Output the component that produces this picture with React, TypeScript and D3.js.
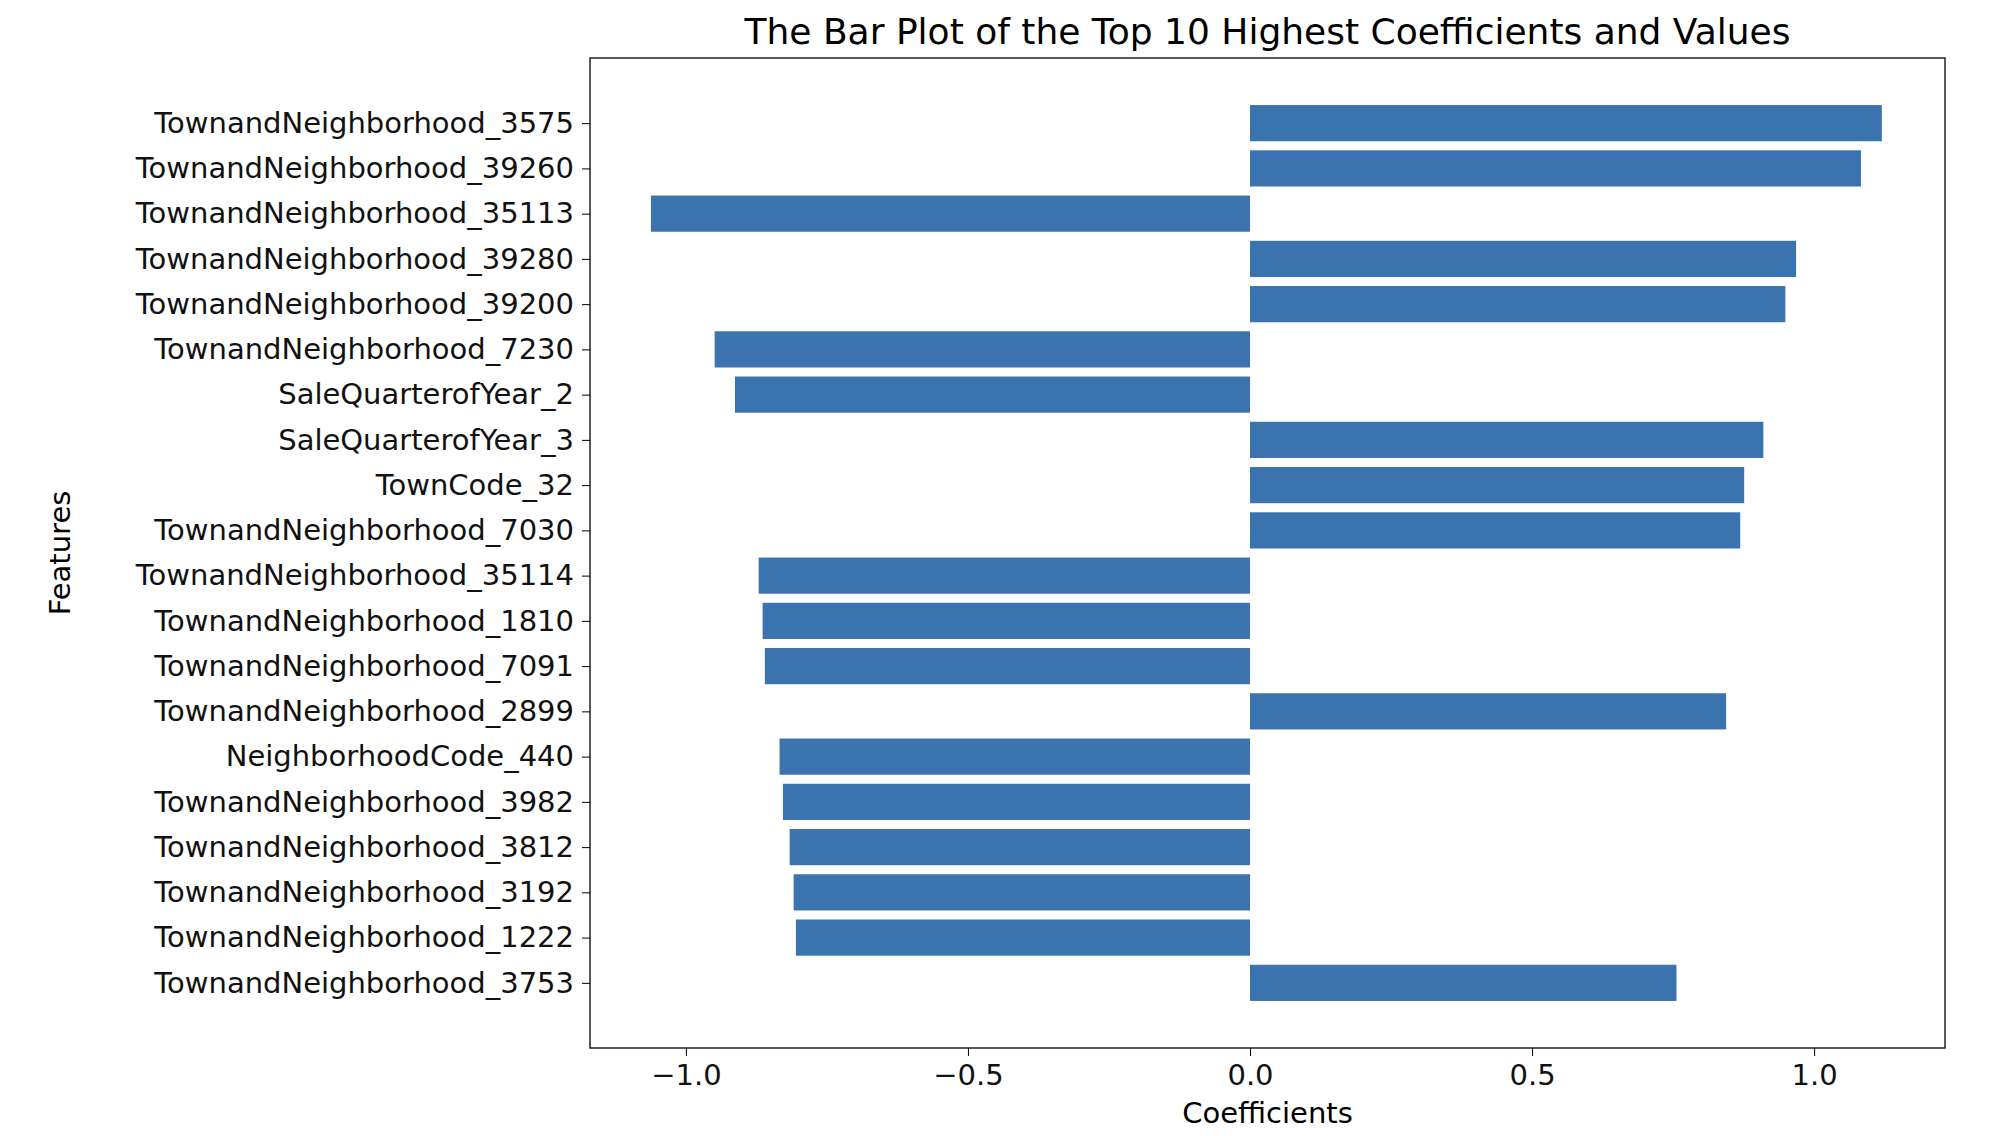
import * as React from "react";
import * as d3 from "d3";

const features = [
  "TownandNeighborhood_3575",
  "TownandNeighborhood_39260",
  "TownandNeighborhood_35113",
  "TownandNeighborhood_39280",
  "TownandNeighborhood_39200",
  "TownandNeighborhood_7230",
  "SaleQuarterofYear_2",
  "SaleQuarterofYear_3",
  "TownCode_32",
  "TownandNeighborhood_7030",
  "TownandNeighborhood_35114",
  "TownandNeighborhood_1810",
  "TownandNeighborhood_7091",
  "TownandNeighborhood_2899",
  "NeighborhoodCode_440",
  "TownandNeighborhood_3982",
  "TownandNeighborhood_3812",
  "TownandNeighborhood_3192",
  "TownandNeighborhood_1222",
  "TownandNeighborhood_3753",
];
const coefficients = [
  1.12, 1.083, -1.062, 0.968, 0.949, -0.949, -0.913, 0.91, 0.876, 0.869,
  -0.871, -0.864, -0.86, 0.844, -0.834, -0.828, -0.816, -0.809, -0.805, 0.756,
];
const xTicks = [-1.0, -0.5, 0.0, 0.5, 1.0];

const W = 2010;
const H = 1136;
const left = 590;
const right = 1945;
const top = 58;
const bottom = 1048;
const font = "'DejaVu Sans', sans-serif";

export default function App() {
  const ref = React.useRef<SVGSVGElement>(null);
  React.useEffect(() => {
    const svg = d3.select(ref.current);
    svg.selectAll("*").remove();
    const x = d3.scaleLinear().domain([-1.17, 1.232]).range([left, right]);
    const y = d3
      .scaleLinear()
      .domain([-1.44, 20.44])
      .range([top, bottom]);
    const bh = y(0.8) - y(0);

    svg
      .append("g")
      .selectAll("rect")
      .data(coefficients)
      .enter()
      .append("rect")
      .attr("x", (d) => x(Math.min(0, d)))
      .attr("width", (d) => Math.abs(x(d) - x(0)))
      .attr("y", (_d, i) => y(i) - bh / 2)
      .attr("height", bh)
      .attr("fill", "#3a73ad");

    svg
      .append("rect")
      .attr("x", left)
      .attr("y", top)
      .attr("width", right - left)
      .attr("height", bottom - top)
      .attr("fill", "none")
      .attr("stroke", "#222")
      .attr("stroke-width", 1.5);

    const xa = svg
      .append("g")
      .attr("transform", `translate(0,${bottom})`)
      .call(d3.axisBottom(x).tickValues(xTicks).tickFormat((d) => d3.format(".1f")(+d).replace("-", "−")).tickSize(8).tickPadding(8).tickSizeOuter(0));
    xa.select(".domain").remove();
    xa.selectAll("text").attr("font-size", 29).attr("font-family", font).attr("fill", "#111");

    const ya = svg
      .append("g")
      .attr("transform", `translate(${left},0)`)
      .call(
        d3
          .axisLeft(y)
          .tickValues(d3.range(features.length))
          .tickFormat((d) => features[+d])
          .tickSize(8)
          .tickPadding(8)
      );
    ya.select(".domain").remove();
    ya.selectAll("text").attr("font-size", 29).attr("font-family", font).attr("fill", "#111");

    svg
      .append("text")
      .attr("x", (left + right) / 2)
      .attr("y", 44)
      .attr("text-anchor", "middle")
      .attr("font-size", 36)
      .attr("font-family", font)
      .text("The Bar Plot of the Top 10 Highest Coefficients and Values");
    svg
      .append("text")
      .attr("x", (left + right) / 2)
      .attr("y", 1123)
      .attr("text-anchor", "middle")
      .attr("font-size", 29)
      .attr("font-family", font)
      .text("Coefficients");
    svg
      .append("text")
      .attr("transform", `translate(70,${(top + bottom) / 2}) rotate(-90)`)
      .attr("text-anchor", "middle")
      .attr("font-size", 29)
      .attr("font-family", font)
      .text("Features");
  }, []);
  return <svg ref={ref} width={W} height={H} style={{ display: "block", margin: -8 }} />;
}
